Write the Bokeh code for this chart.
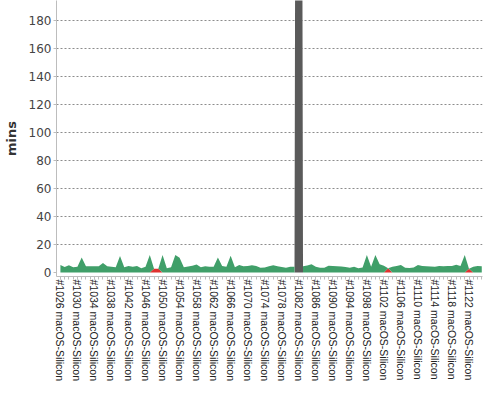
from bokeh.plotting import figure
from bokeh.models import FixedTicker, Range1d, ColumnDataSource
from bokeh.embed import file_html
from bokeh.resources import INLINE

# Build numbers #1026 .. #1125
builds = [1026, 1027, 1028, 1029, 1030, 1031, 1032, 1033, 1034, 1035,
          1036, 1037, 1038, 1039, 1040, 1041, 1042, 1043, 1044, 1045,
          1046, 1047, 1048, 1049, 1050, 1051, 1052, 1053, 1054, 1055,
          1056, 1057, 1058, 1059, 1060, 1061, 1062, 1063, 1064, 1065,
          1066, 1067, 1068, 1069, 1070, 1071, 1072, 1073, 1074, 1075,
          1076, 1077, 1078, 1079, 1080, 1081, 1082, 1083, 1084, 1085,
          1086, 1087, 1088, 1089, 1090, 1091, 1092, 1093, 1094, 1095,
          1096, 1097, 1098, 1099, 1100, 1101, 1102, 1103, 1104, 1105,
          1106, 1107, 1108, 1109, 1110, 1111, 1112, 1113, 1114, 1115,
          1116, 1117, 1118, 1119, 1120, 1121, 1122, 1123, 1124, 1125]

# Duration (mins) of successful builds (0 where the build did not succeed)
success = [5.3, 3.8, 5.2, 3.7, 4.1, 10.7, 4.4, 4.4, 4.4, 4.4,
           6.7, 4.4, 4.1, 3.7, 11.7, 3.7, 4.6, 4.1, 4.6, 3.0,
           4.1, 12.4, 0.0, 0.0, 12.4, 3.0, 3.7, 12.4, 10.5, 3.7,
           4.3, 4.8, 5.6, 3.7, 4.4, 4.1, 4.1, 10.7, 4.6, 4.1,
           11.9, 3.7, 5.3, 4.4, 4.6, 5.1, 4.6, 3.4, 3.5, 4.4,
           5.1, 4.4, 3.9, 3.4, 4.1, 4.0, 0.0, 4.4, 5.0, 5.8,
           4.1, 3.4, 3.4, 4.8, 4.6, 4.4, 4.2, 3.9, 3.4, 4.1,
           3.0, 3.6, 12.4, 4.1, 12.4, 5.8, 4.8, 0.0, 4.1, 4.6,
           5.3, 3.4, 3.2, 3.6, 5.3, 4.6, 4.4, 4.3, 4.1, 4.6,
           4.4, 4.6, 4.6, 5.5, 4.6, 12.4, 0.0, 4.1, 4.6, 4.4]

# Duration (mins) of failed builds
failed_builds = [1048, 1049, 1103, 1122]
failed_mins = [2.6, 2.6, 3.0, 2.6]

# Duration (mins) of aborted builds
aborted_builds = [1082]
aborted_mins = [1500.0]

tick_labels = ["#1026 macOS-Silicon", "#1030 macOS-Silicon", "#1034 macOS-Silicon",
               "#1038 macOS-Silicon", "#1042 macOS-Silicon", "#1046 macOS-Silicon",
               "#1050 macOS-Silicon", "#1054 macOS-Silicon", "#1058 macOS-Silicon",
               "#1062 macOS-Silicon", "#1066 macOS-Silicon", "#1070 macOS-Silicon",
               "#1074 macOS-Silicon", "#1078 macOS-Silicon", "#1082 macOS-Silicon",
               "#1086 macOS-Silicon", "#1090 macOS-Silicon", "#1094 macOS-Silicon",
               "#1098 macOS-Silicon", "#1102 macOS-Silicon", "#1106 macOS-Silicon",
               "#1110 macOS-Silicon", "#1114 macOS-Silicon", "#1118 macOS-Silicon",
               "#1122 macOS-Silicon"]

# ---- build the table the library needs ----
idx = list(range(len(builds)))
failed_series = [0.0] * len(builds)
for b, m in zip(failed_builds, failed_mins):
    failed_series[builds.index(b)] = m
aborted_series = [0.0] * len(builds)
for b, m in zip(aborted_builds, aborted_mins):
    aborted_series[builds.index(b)] = m

src = ColumnDataSource(dict(idx=idx, failed=failed_series,
                            aborted=aborted_series, success=success))

GREEN = "#409f69"
RED = "#e0312f"
GREY = "#5a5a5a"

p = figure(width=484, height=384, output_backend="svg", toolbar_location=None,
           x_range=Range1d(-0.92, 99.17), y_range=Range1d(-2.9, 194),
           min_border_top=0, min_border_right=2, min_border_left=0,
           min_border_bottom=0)

p.varea_stack(stackers=["failed", "aborted", "success"], x="idx",
              color=[RED, GREY, GREEN], source=src)

p.outline_line_color = None
p.background_fill_color = "white"
p.border_fill_color = "white"

# grid
p.xgrid.visible = False
p.ygrid.ticker = FixedTicker(ticks=list(range(20, 200, 20)))
p.ygrid.grid_line_color = "#8c8c8c"
p.ygrid.grid_line_dash = "2 2"
p.ygrid.grid_line_width = 1

# x axis
major_idx = [builds.index(int(t.split()[0][1:])) for t in tick_labels]
p.xaxis.ticker = FixedTicker(ticks=major_idx, minor_ticks=idx)
p.xaxis.major_label_overrides = {i: t for i, t in zip(major_idx, tick_labels)}
p.xaxis.major_label_orientation = "vertical"
p.xaxis.major_label_text_font = "Liberation Sans"
p.xaxis.major_label_text_font_size = "10.5px"
p.xaxis.major_label_text_color = "#222222"
p.xaxis.major_label_standoff = 0
p.xaxis.major_tick_out = 3
p.xaxis.major_tick_in = 0
p.xaxis.minor_tick_out = 3
p.xaxis.minor_tick_in = 0
p.xaxis.axis_line_color = "#bdbdbd"
p.xaxis.major_tick_line_color = "#bdbdbd"
p.xaxis.minor_tick_line_color = "#bdbdbd"

# y axis
p.yaxis.ticker = FixedTicker(ticks=list(range(0, 200, 20)))
p.yaxis.axis_label = "mins"
p.yaxis.axis_label_text_font = "DejaVu Sans"
p.yaxis.axis_label_text_font_size = "13px"
p.yaxis.axis_label_text_font_style = "bold"
p.yaxis.axis_label_text_color = "#333333"
p.yaxis.axis_label_standoff = 7
p.yaxis.major_label_text_font = "DejaVu Sans"
p.yaxis.major_label_text_font_size = "12px"
p.yaxis.major_label_text_color = "#444444"
p.yaxis.major_label_standoff = 2
p.yaxis.major_tick_out = 3
p.yaxis.major_tick_in = 0
p.yaxis.minor_tick_line_color = None
p.yaxis.axis_line_color = "#bdbdbd"
p.yaxis.major_tick_line_color = "#bdbdbd"

open("out.html", "w").write(file_html(p, INLINE))
